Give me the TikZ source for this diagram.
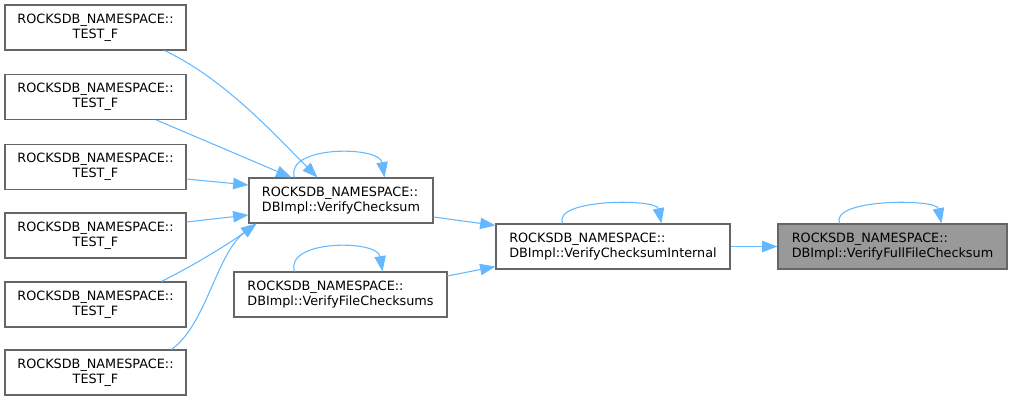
\documentclass[tikz,border=0pt]{standalone}
\usepackage{fontspec}
\setmainfont{DejaVu Sans}
\definecolor{edgeblau}{HTML}{63B8FF}
\definecolor{boxgrau}{HTML}{666666}
\definecolor{fillgrau}{HTML}{999999}
\usetikzlibrary{arrows.meta, calc}

\begin{document}
\begin{tikzpicture}[x=0.75pt, y=-0.75pt, every node/.style={font=\fontsize{9.6}{11.4}\selectfont}]
        \tikzset{fnbox/.style={draw=boxgrau, line width=0.8pt, fill=white, inner sep=0pt,
                 minimum height=33.75pt, align=left},
                 testbox/.style={fnbox, minimum width=135.75pt, align=center},
                 call/.style={-{Triangle[length=11.5pt,width=8.5pt]}, edgeblau, line width=0.8pt}}
        \useasboundingbox (0,0) rectangle (1013,402);

        \node[testbox] (t1) at (95.5, 27.5)  {ROCKSDB\_NAMESPACE::\\TEST\_F};
        \node[testbox] (t2) at (95.5, 97)    {ROCKSDB\_NAMESPACE::\\TEST\_F};
        \node[testbox] (t3) at (95.5, 167)   {ROCKSDB\_NAMESPACE::\\TEST\_F};
        \node[testbox] (t4) at (95.5, 235.5) {ROCKSDB\_NAMESPACE::\\TEST\_F};
        \node[testbox] (t5) at (95.5, 304.5) {ROCKSDB\_NAMESPACE::\\TEST\_F};
        \node[testbox] (t6) at (95.5, 372.5) {ROCKSDB\_NAMESPACE::\\TEST\_F};

        \node[fnbox, minimum width=138pt]    (vc)  at (341, 200.5)
          {ROCKSDB\_NAMESPACE::\\DBImpl::VerifyChecksum};
        \node[fnbox, minimum width=159.75pt] (vfc) at (340.5, 294.5)
          {ROCKSDB\_NAMESPACE::\\DBImpl::VerifyFileChecksums};
        \node[fnbox, minimum width=175.5pt]  (vci) at (613, 246.5)
          {ROCKSDB\_NAMESPACE::\\DBImpl::VerifyChecksumInternal};
        \node[fnbox, minimum width=171.75pt, fill=fillgrau] (vff) at (892.5, 246.5)
          {ROCKSDB\_NAMESPACE::\\DBImpl::VerifyFullFileChecksum};

        \draw[call] ($(t1.south west)+(160,0)$) .. controls +(60,28) and +(-40,-40) .. ($(vc.north west)+(69,0)$);
        \draw[call] ($(t2.south west)+(152,0)$) -- ($(vc.north west)+(43,0)$);
        \draw[call] ($(t3.east)+(0,12)$) -- ($(vc.west)+(0,-15.5)$);
        \draw[call] ($(t4.east)+(0,-13.5)$) -- ($(vc.west)+(0,14.5)$);
        \draw[call] ($(t5.north west)+(157,0)$) .. controls +(30,-15) and +(-30,22) .. ($(vc.south west)+(8,0)$);
        \draw[call] ($(t6.north west)+(167,0)$) .. controls +(35,-25) and +(-40,30) .. ($(vc.south west)+(8,0)$);

        \draw[call] ($(vc.north west)+(46,0)$) .. controls +(-10,-32) and +(-5,-32) .. ($(vc.north west)+(136,0)$);
        \draw[call] ($(vfc.north west)+(61,0)$) .. controls +(-10,-32) and +(-5,-32) .. ($(vfc.north west)+(149,0)$);
        \draw[call] ($(vci.north west)+(67,0)$) .. controls +(-10,-25) and +(-5,-25) .. ($(vci.north west)+(166,0)$);
        \draw[call] ($(vff.north west)+(62,0)$) .. controls +(-10,-25) and +(-5,-25) .. ($(vff.north west)+(164,0)$);

        \draw[call] ($(vc.east)+(0,16.5)$) -- ($(vci.north west)+(0,2)$);
        \draw[call] ($(vfc.east)+(0,-18.5)$) -- ($(vci.south west)+(0,-3)$);
        \draw[call] (vci.east) -- (vff.west);
      \end{tikzpicture}
\end{document}
